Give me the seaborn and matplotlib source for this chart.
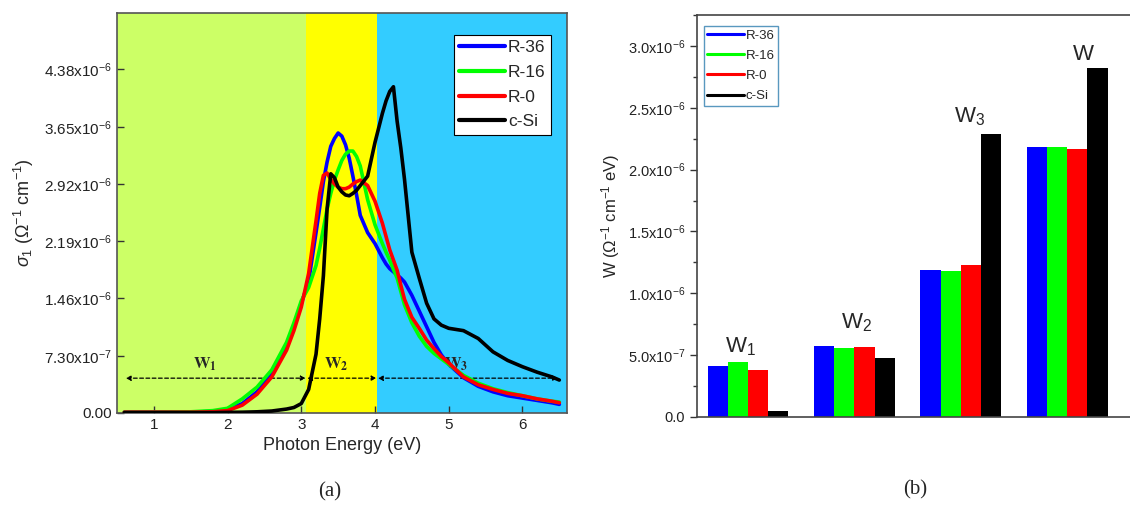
import matplotlib
matplotlib.use('Agg')
import matplotlib.pyplot as plt
from matplotlib.ticker import AutoMinorLocator
import seaborn as sns
import pandas as pd
import numpy as np

# ---- data (sigma values in units of 1e-6) ----
samples = ['R-36', 'R-16', 'R-0', 'c-Si']
colors = ['#0000FF', '#00FF00', '#FF0000', '#000000']

energy = [0.6, 1.0, 1.5, 1.8, 2.0, 2.2, 2.4, 2.6, 2.8, 2.9, 3.0, 3.1, 3.2, 3.25,
          3.3, 3.35, 3.4, 3.45, 3.5, 3.55, 3.6, 3.65, 3.7, 3.75, 3.8, 3.9, 4.0,
          4.1, 4.15, 4.2, 4.25, 4.3, 4.35, 4.4, 4.5, 4.6, 4.7, 4.8, 4.9, 5.0,
          5.2, 5.4, 5.6, 5.8, 6.0, 6.2, 6.4, 6.5]

sigma_r36 = [0.01, 0.01, 0.01, 0.02, 0.04, 0.12, 0.27, 0.50, 0.85, 1.10, 1.40,
             1.68, 2.30, 2.62, 2.95, 3.20, 3.40, 3.50, 3.57, 3.53, 3.42, 3.25,
             3.02, 2.78, 2.52, 2.30, 2.16, 1.98, 1.90, 1.84, 1.80, 1.76, 1.72,
             1.67, 1.50, 1.30, 1.10, 0.90, 0.74, 0.62, 0.45, 0.34, 0.27, 0.22,
             0.19, 0.16, 0.13, 0.11]
sigma_r16 = [0.01, 0.01, 0.015, 0.03, 0.06, 0.18, 0.33, 0.55, 0.90, 1.15, 1.43,
             1.60, 1.88, 2.10, 2.35, 2.60, 2.80, 2.97, 3.10, 3.22, 3.30, 3.34,
             3.34, 3.27, 3.15, 2.72, 2.40, 2.16, 2.05, 1.95, 1.83, 1.72, 1.55,
             1.38, 1.15, 0.98, 0.85, 0.76, 0.69, 0.62, 0.48, 0.38, 0.31, 0.26,
             0.22, 0.18, 0.15, 0.14]
sigma_r0 = [0.01, 0.01, 0.01, 0.015, 0.03, 0.10, 0.24, 0.46, 0.80, 1.05, 1.35,
            1.78, 2.45, 2.80, 3.03, 3.06, 2.98, 2.92, 2.88, 2.86, 2.86, 2.88,
            2.92, 2.95, 2.97, 2.90, 2.70, 2.42, 2.25, 2.08, 1.95, 1.82, 1.63,
            1.45, 1.22, 1.08, 0.93, 0.82, 0.72, 0.64, 0.46, 0.36, 0.30, 0.25,
            0.22, 0.18, 0.15, 0.13]
sigma_csi = [0.005, 0.005, 0.005, 0.005, 0.008, 0.01, 0.015, 0.025, 0.05, 0.07,
             0.12, 0.30, 0.75, 1.20, 1.75, 2.60, 3.05, 3.00, 2.88, 2.82, 2.78,
             2.77, 2.80, 2.84, 2.90, 3.02, 3.45, 3.82, 3.98, 4.10, 4.16, 3.72,
             3.38, 2.98, 2.05, 1.72, 1.40, 1.20, 1.12, 1.08, 1.05, 0.95, 0.78,
             0.67, 0.59, 0.52, 0.46, 0.42]

sigma_ticks = [0.0, 0.73e-6, 1.46e-6, 2.19e-6, 2.92e-6, 3.65e-6, 4.38e-6]
sigma_ticklabels = ['0.00', r'7.30x10$^{-7}$', r'1.46x10$^{-6}$', r'2.19x10$^{-6}$',
                    r'2.92x10$^{-6}$', r'3.65x10$^{-6}$', r'4.38x10$^{-6}$']

# energy windows W1, W2, W3
window_edges = [0.5, 3.07, 4.03, 6.6]
window_colors = ['#CCFF66', '#FFFF00', '#33CCFF']

# spectral weights (panel b)
weight_groups = ['W1', 'W2', 'W3', 'W']
weight_r36 = [4.13e-7, 5.75e-7, 1.19e-6, 2.18e-6]
weight_r16 = [4.45e-7, 5.58e-7, 1.18e-6, 2.18e-6]
weight_r0 = [3.80e-7, 5.66e-7, 1.23e-6, 2.17e-6]
weight_csi = [0.50e-7, 4.77e-7, 2.29e-6, 2.82e-6]
weight_labels = [r'W$_1$', r'W$_2$', r'W$_3$', 'W']

w_ticks = [0.0, 0.5e-6, 1.0e-6, 1.5e-6, 2.0e-6, 2.5e-6, 3.0e-6]
w_ticklabels = ['0.0', r'5.0x10$^{-7}$', r'1.0x10$^{-6}$', r'1.5x10$^{-6}$',
                r'2.0x10$^{-6}$', r'2.5x10$^{-6}$', r'3.0x10$^{-6}$']

# ---- style ----
sns.set_style('ticks')
plt.rcParams['font.family'] = ['Liberation Sans', 'DejaVu Sans']
plt.rcParams['mathtext.fontset'] = 'custom'
plt.rcParams['mathtext.rm'] = 'Liberation Sans'
plt.rcParams['mathtext.it'] = 'Liberation Sans:italic'
plt.rcParams['mathtext.bf'] = 'Liberation Sans:bold'

fig = plt.figure(figsize=(11.3, 5.05), dpi=100)
ax1 = fig.add_axes([0.1035, 0.1822, 0.398, 0.792])
ax2 = fig.add_axes([0.6168, 0.1743, 0.3832, 0.796])

# ---- panel (a) ----
sig = {'R-36': sigma_r36, 'R-16': sigma_r16, 'R-0': sigma_r0, 'c-Si': sigma_csi}
df_a = pd.concat([pd.DataFrame({'E': energy, 'sigma': np.array(v) * 1e-6, 'sample': k})
                  for k, v in sig.items()], ignore_index=True)

for i, c in enumerate(window_colors):
    ax1.axvspan(window_edges[i], window_edges[i + 1], color=c, lw=0, zorder=0)

sns.lineplot(data=df_a, x='E', y='sigma', hue='sample', hue_order=samples,
             palette=colors, lw=2.6, sort=False, estimator=None, ax=ax1,
             legend=False, zorder=3)

arrow_y = 4.44e-7
arrow_spans = [(0.62, 3.06), (3.08, 4.02), (4.04, 6.48)]
for x0, x1 in arrow_spans:
    ax1.annotate('', xy=(x1, arrow_y), xytext=(x0, arrow_y),
                 arrowprops=dict(arrowstyle='<|-|>', ls=(0, (3, 2)), lw=0.9,
                                 color='black', mutation_scale=7,
                                 shrinkA=0, shrinkB=0), zorder=2)
for lab, xx in zip([r'$\mathbf{W_1}$', r'$\mathbf{W_2}$', r'$\mathbf{W_3}$'], [1.7, 3.47, 5.1]):
    ax1.text(xx, 6.2e-7, lab, ha='center', va='center', fontsize=12,
             math_fontfamily='stix', zorder=2)

ax1.set_xlim(0.5, 6.6)
ax1.set_ylim(0, 5.1e-6)
ax1.set_xticks([1, 2, 3, 4, 5, 6])
ax1.set_yticks(sigma_ticks)
ax1.set_yticklabels(sigma_ticklabels)
ax1.tick_params(direction='in', length=5, width=1, labelsize=11, colors='#333333',
                labelcolor='#222222')
ax1.set_xlabel('Photon Energy (eV)', fontsize=13, labelpad=4)
ax1.set_ylabel(r'$\sigma_1$ ($\Omega^{-1}$ cm$^{-1}$)', fontsize=13, labelpad=6)
for s in ax1.spines.values():
    s.set_color('#555555')
    s.set_linewidth(1.2)

handles = [plt.Line2D([], [], color=c, lw=3) for c in colors]
leg1 = ax1.legend(handles, samples, loc='upper left', bbox_to_anchor=(0.75, 0.945),
                  fontsize=12.5, frameon=True, fancybox=False, handlelength=2.6,
                  handletextpad=0.2, borderpad=0.3, labelspacing=0.55,
                  borderaxespad=0)
leg1.get_frame().set_edgecolor('black')
leg1.get_frame().set_linewidth(0.8)
leg1.get_frame().set_alpha(1)

# ---- panel (b) ----
wts = {'R-36': weight_r36, 'R-16': weight_r16, 'R-0': weight_r0, 'c-Si': weight_csi}
df_b = pd.concat([pd.DataFrame({'window': weight_groups, 'W': v, 'sample': k})
                  for k, v in wts.items()], ignore_index=True)

sns.barplot(data=df_b, x='window', y='W', hue='sample', hue_order=samples,
            order=weight_groups, palette=colors, width=0.76, gap=0,
            linewidth=0, saturation=1, ax=ax2, legend=False)

label_pos = [(-0.07, 5.66e-7), (1.02, 7.6e-7), (2.08, 2.43e-6), (3.15, 2.93e-6)]
for lab, (xx, yy) in zip(weight_labels, label_pos):
    ax2.text(xx, yy, lab, ha='center', va='center', fontsize=16)

ax2.set_xlim(-0.48, 3.59)
ax2.set_ylim(0, 3.25e-6)
ax2.set_xticks([])
ax2.set_yticks(w_ticks)
ax2.set_yticklabels(w_ticklabels)
ax2.yaxis.set_minor_locator(AutoMinorLocator(2))
ax2.tick_params(axis='y', which='major', direction='out', length=5, width=1,
                labelsize=10.5, colors='#333333', labelcolor='#222222')
ax2.tick_params(axis='y', which='minor', direction='out', length=3, width=1,
                colors='#333333')
ax2.set_xlabel('')
ax2.set_ylabel(r'W ($\Omega^{-1}$ cm$^{-1}$ eV)', fontsize=12, labelpad=4)
ax2.spines['right'].set_visible(False)
for k in ['left', 'top', 'bottom']:
    ax2.spines[k].set_color('#444444')
    ax2.spines[k].set_linewidth(1.2)

handles2 = [plt.Line2D([], [], color=c, lw=2.2) for c in colors]
leg2 = ax2.legend(handles2, samples, loc='upper left', bbox_to_anchor=(0.016, 0.972),
                  fontsize=9.5, frameon=True, fancybox=False, handlelength=2.8,
                  handletextpad=0.1, borderpad=0.25, labelspacing=0.6,
                  borderaxespad=0)
leg2.get_frame().set_edgecolor('#2f7fb0')
leg2.get_frame().set_linewidth(1.0)

fig.text(330 / 1130, 1 - 492 / 505, '(a)', fontsize=15, family='Liberation Serif',
         ha='center', va='center')
fig.text(915 / 1130, 1 - 490 / 505, '(b)', fontsize=15, family='Liberation Serif',
         ha='center', va='center')

fig.savefig('out.png', dpi=100)
plt.close(fig)
